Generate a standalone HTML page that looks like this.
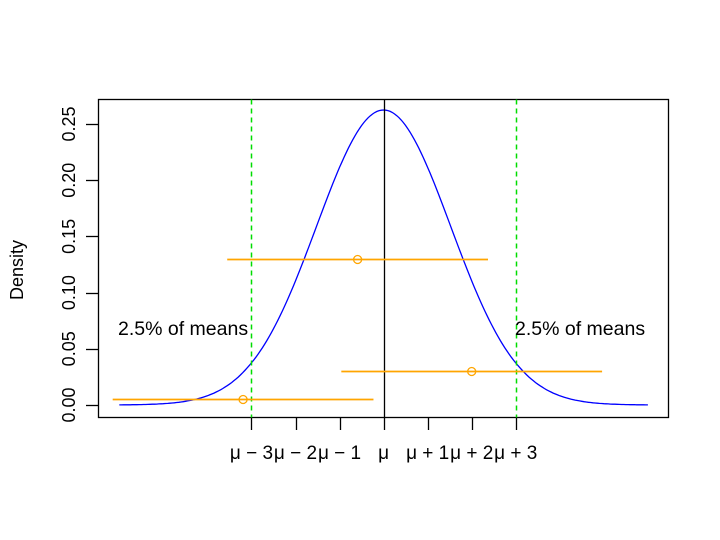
<!DOCTYPE html>
<html><head><meta charset="utf-8"><style>body{margin:0;background:#fff}svg{display:block;font-family:"Liberation Sans",Arial,sans-serif}</style></head>
<body>
<svg id="chart" width="720" height="540" viewBox="0 0 720 540"></svg>
<script>
const xTickLabels = ["μ − 3","μ − 2","μ − 1","μ","μ + 1","μ + 2","μ + 3"];
const xTickValues = [-3,-2,-1,0,1,2,3];
const yTickValues = [0,0.05,0.10,0.15,0.20,0.25];
const yTickLabels = ["0.00","0.05","0.10","0.15","0.20","0.25"];
const sdValue = 1.52;
const ciCenters = [-0.59, 2.0, -3.19];
const ciHeights = [0.13, 0.03, 0.005];
const ciHalfWidth = 2.96;
const cutoffs = [-3, 3];

const svg = document.getElementById('chart');
const NS = 'http://www.w3.org/2000/svg';
const X = v => 383.6 + v * 44.05;
const Y = v => 405 - v * 1124;
function mk(tag, attrs, parent) {
  const e = document.createElementNS(NS, tag);
  for (const k in attrs) e.setAttribute(k, attrs[k]);
  (parent || svg).appendChild(e);
  return e;
}
let e;
e = mk('rect', {x:98.5,y:99.5,width:570,height:318,fill:'none',stroke:'#000','stroke-width':1.3});


yTickValues.forEach((v, i) => {
  const t = mk('line', {x1:86, x2:98, y1:Math.round(Y(v))+0.5, y2:Math.round(Y(v))+0.5, stroke:'#000','stroke-width':1.3});
  
  
  const l = mk('text', {x:0, y:0, 'font-size':18, 'text-anchor':'middle', transform:`translate(75,${Y(v)}) rotate(-90)`});
  l.textContent = yTickLabels[i];
  
  
});
e = mk('text', {x:0, y:0, 'font-size':18, 'text-anchor':'middle', transform:'translate(23,270) rotate(-90)'});
e.textContent = 'Density';


xTickValues.forEach((v, i) => {
  const t = mk('line', {x1:Math.round(X(v))+0.5, x2:Math.round(X(v))+0.5, y1:418, y2:430, stroke:'#000','stroke-width':1.3});
  
  
  const l = mk('text', {x:X(v), y:459, 'font-size':19, 'text-anchor':'middle'});
  l.textContent = xTickLabels[i];
  
  
});
let d = '';
for (let x = -6; x <= 6.0001; x += 0.05) {
  const y = Math.exp(-x*x/(2*sdValue*sdValue)) / (Math.sqrt(2*Math.PI)*sdValue);
  d += (d ? 'L' : 'M') + X(x).toFixed(1) + ',' + Y(y).toFixed(1);
}
e = mk('path', {d, fill:'none', stroke:'#0000ff', 'stroke-width':1.3});


e = mk('line', {x1:Math.round(X(0))+0.5, x2:Math.round(X(0))+0.5, y1:99.5, y2:417.5, stroke:'#000','stroke-width':1.3});


cutoffs.forEach(c => {
  const l = mk('line', {x1:Math.round(X(c))+0.5, x2:Math.round(X(c))+0.5, y1:99.5, y2:417.5, stroke:'#00dd00', 'stroke-width':1.5, 'stroke-dasharray':'5,4'});
  
  
});
ciCenters.forEach((c, i) => {
  const yy = Math.round(Y(ciHeights[i])) + 0.5;
  const l = mk('line', {x1:X(c-ciHalfWidth), x2:X(c+ciHalfWidth), y1:yy, y2:yy, stroke:'#ffa500','stroke-width':1.8});
  
  
  const p = mk('circle', {cx:X(c), cy:yy, r:4, fill:'none', stroke:'#ffa500','stroke-width':1.3});
  
  
});
[[118,'left'],[515,'right']].forEach(([x, s]) => {
  const t = mk('text', {x, y:335, 'font-size':19.5});
  t.textContent = '2.5% of means';
  
  
});
</script>
</body></html>
